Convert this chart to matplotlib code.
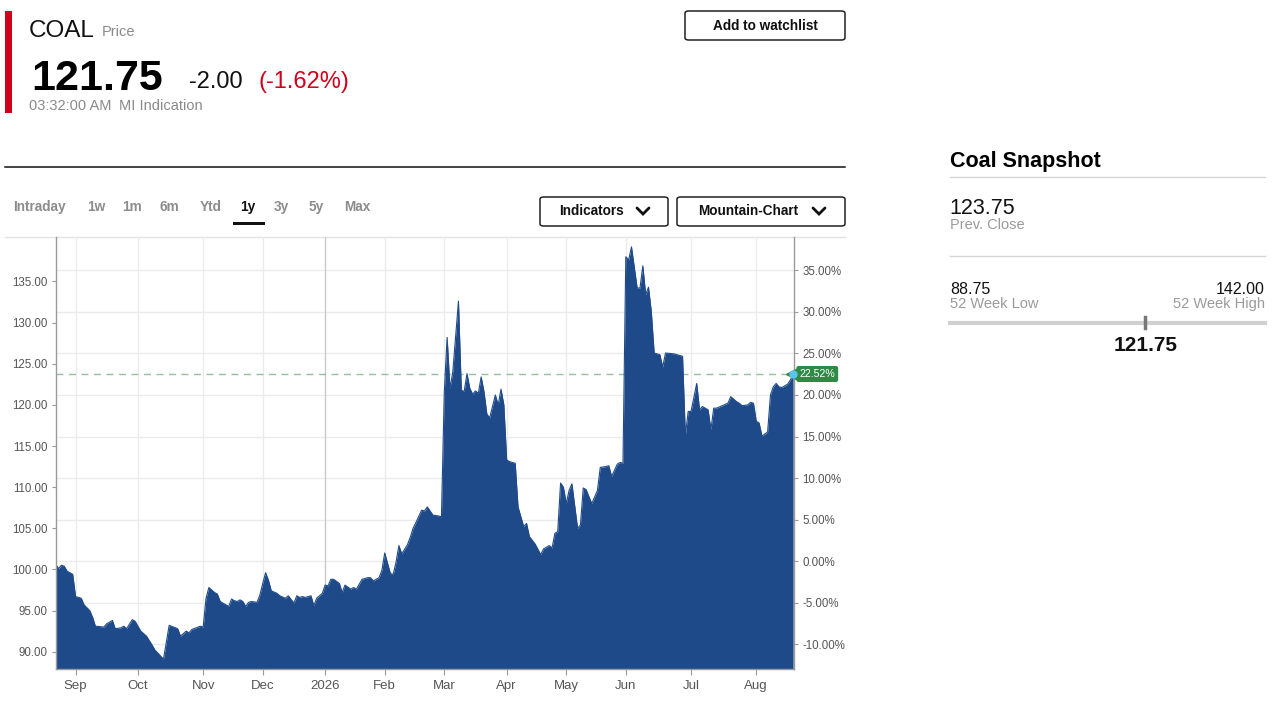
import matplotlib
matplotlib.use("Agg")
import matplotlib.pyplot as plt
from matplotlib.patches import FancyBboxPatch, Rectangle
from matplotlib.lines import Line2D
from matplotlib.ticker import FuncFormatter

# ---------------- data ----------------
ticker = "COAL"
price_word = "Price"
last_price = 121.75
change = -2.00
change_pct = -1.62
time_label = "03:32:00 AM"
source_label = "MI Indication"
prev_close = 123.75
low_52w = 88.75
high_52w = 142.00
base_price = 101.0          # reference price for the % axis

ranges = ["Intraday", "1w", "1m", "6m", "Ytd", "1y", "3y", "5y", "Max"]
active_range = "1y"

session = [0, 1, 2, 3, 4, 6, 7, 9, 10, 12, 13, 14, 17, 18, 20, 21, 23, 24, 25, 27,
           28, 30, 32, 34, 35, 38, 40, 43, 44, 46, 47, 48, 51, 52, 53, 54, 56, 57, 58, 61,
           62, 63, 64, 65, 66, 67, 68, 69, 71, 72, 73, 74, 75, 76, 78, 79, 81, 82, 84, 85,
           86, 87, 88, 90, 91, 92, 94, 95, 96, 97, 98, 100, 101, 102, 104, 105, 106, 108, 110, 111,
           112, 114, 115, 116, 118, 119, 120, 121, 122, 124, 125, 126, 127, 129, 130, 131, 132, 133, 135, 136,
           137, 138, 139, 140, 142, 143, 144, 145, 146, 147, 148, 149, 150, 151, 152, 153, 155, 156, 157, 158,
           159, 160, 162, 163, 164, 165, 166, 167, 169, 171, 172, 174, 175, 176, 177, 178, 179, 180, 181, 182,
           184, 185, 186, 187, 189, 191, 192, 194, 195, 196, 198, 199, 200, 201, 202, 203, 205, 206, 207, 208,
           209, 210, 211, 213, 214, 215, 218, 219, 221, 222, 223, 224, 226, 227, 228, 230, 231, 232, 233, 235,
           237, 238, 240, 241, 242, 244, 245, 246, 247, 248, 249, 251, 252, 253, 254, 255, 256, 258, 259, 260]
price = [100.6, 100.1, 100.5, 100.4, 99.8, 99.4, 96.7, 96.5, 95.7, 95.0, 94.2, 93.1, 93.0, 93.4, 93.8, 92.8, 92.9, 93.1, 92.8, 93.9,
         93.7, 92.5, 91.9, 90.8, 90.2, 89.1, 93.2, 92.8, 91.9, 92.5, 92.3, 92.7, 93.1, 93.0, 96.5, 97.8, 97.2, 97.0, 96.1, 95.5,
         96.4, 96.2, 96.1, 96.3, 96.1, 95.5, 96.0, 96.1, 96.0, 96.9, 98.3, 99.6, 98.7, 97.4, 97.1, 96.8, 96.5, 96.8, 95.9, 96.8,
         96.6, 96.7, 96.6, 96.8, 95.6, 96.5, 97.1, 98.1, 98.0, 98.8, 98.8, 98.3, 97.2, 98.1, 97.6, 97.8, 97.6, 98.8, 99.0, 99.0,
         98.6, 99.0, 99.9, 102.0, 99.5, 99.4, 100.9, 102.9, 101.9, 103.0, 103.9, 105.0, 105.7, 107.2, 107.1, 107.6, 107.1, 106.6, 106.5, 106.4,
         121.5, 128.2, 122.0, 124.0, 132.6, 121.8, 121.6, 123.8, 122.0, 121.3, 121.7, 121.4, 123.4, 121.6, 118.9, 118.4, 121.2, 120.0, 121.9, 120.0,
         113.3, 113.1, 112.9, 107.6, 106.4, 105.2, 105.6, 104.0, 103.1, 101.8, 102.5, 102.9, 102.6, 104.4, 104.6, 110.5, 110.0, 108.0, 109.6, 110.4,
         105.0, 105.4, 109.9, 109.7, 108.0, 109.6, 112.4, 112.5, 112.6, 111.3, 112.8, 113.0, 112.9, 138.0, 137.6, 139.2, 134.2, 134.2, 136.9, 133.4,
         134.3, 131.3, 126.3, 126.1, 124.6, 126.3, 126.2, 126.1, 125.9, 116.3, 119.2, 119.2, 122.6, 119.4, 119.8, 119.4, 117.0, 119.6, 119.6, 119.9,
         120.2, 121.0, 120.4, 120.2, 119.9, 120.0, 120.3, 120.2, 118.0, 117.8, 116.2, 116.7, 121.2, 122.2, 122.6, 122.2, 122.1, 122.5, 123.0, 123.75]

month_labels = ["Sep", "Oct", "Nov", "Dec", "2026", "Feb", "Mar", "Apr", "May", "Jun", "Jul", "Aug"]
month_session = [7, 29, 52, 73, 95, 116, 137, 159, 180, 201, 224, 247]
year_label = "2026"

price_ticks = [90, 95, 100, 105, 110, 115, 120, 125, 130, 135]
pct_ticks = [-10, -5, 0, 5, 10, 15, 20, 25, 30, 35]

snapshot_title = "Coal Snapshot"

# ---------------- style ----------------
W, H = 1274, 716
FONT = "Liberation Sans"
plt.rcParams["font.family"] = [FONT, "DejaVu Sans"]

fig = plt.figure(figsize=(W / 100, H / 100), dpi=100)
fig.patch.set_facecolor("white")


def fx(px):
    return px / W


def fy(py):
    return 1 - py / H


FILL = "#1f4a8a"
GRID = "#ebebeb"
TICKC = "#555555"
SPINE = "#9a9a9a"

# ---------------- chart ----------------
ax = fig.add_axes([fx(55.7), fy(669), fx(794) - fx(55.7), fy(237) - fy(669)])
ax2 = ax.twinx()
ax.set_zorder(2)
ax.patch.set_visible(False)
ax2.set_zorder(1)

ylo, yhi = 87.9, 140.4
ax.set_xlim(0, 260.3)
ax.set_ylim(ylo, yhi)
ax2.set_ylim((ylo / base_price - 1) * 100, (yhi / base_price - 1) * 100)

ax.fill_between(session, price, ylo, color=FILL, lw=0, zorder=2)
ax.plot(session, price, color=FILL, lw=0.8, zorder=2)
ax.axhline(prev_close, color="#93bfa0", lw=1.0, ls=(0, (5, 4)), zorder=1)

ax.set_xticks(month_session)
ax.set_xticklabels(month_labels)
ax.set_yticks(price_ticks)
ax.yaxis.set_major_formatter(FuncFormatter(lambda v, p: f"{v:.2f}"))
ax.grid(axis="x", color=GRID, lw=1)
ax.set_axisbelow(True)
for lbl, gl in zip(month_labels, ax.get_xgridlines()):
    if lbl == year_label:
        gl.set_color("#c9c9c9")

ax2.set_yticks(pct_ticks)
ax2.yaxis.set_major_formatter(FuncFormatter(lambda v, p: f"{v:.2f}%"))
ax2.grid(axis="y", color=GRID, lw=1)

for a in (ax, ax2):
    for s in a.spines.values():
        s.set_visible(False)
for s in ("left", "bottom", "right"):
    ax.spines[s].set_visible(True)
    ax.spines[s].set_color(SPINE)
    ax.spines[s].set_linewidth(1)

ax.tick_params(axis="y", which="both", direction="out", length=3, width=0.8,
               color=SPINE, labelsize=8.3, labelcolor=TICKC, pad=3)
ax.tick_params(axis="x", direction="out", length=4, width=0.8, color=SPINE,
               labelsize=9.5, labelcolor=TICKC, pad=4)
ax2.tick_params(axis="y", direction="out", length=3, width=0.8, color=SPINE,
                labelsize=8.3, labelcolor=TICKC, pad=3)

# end-point badge
pct_last = (price[-1] / base_price - 1) * 100
ax.plot([session[-1]], [price[-1]], marker="<", ms=10, color="#2e8b45",
        clip_on=False, zorder=5)
ax.annotate(f"{pct_last:.2f}%", xy=(session[-1], price[-1]), xytext=(4.5, 0),
            textcoords="offset points", ha="left", va="center", color="white",
            fontsize=7.6, zorder=6, annotation_clip=False,
            bbox=dict(boxstyle="round,pad=0.22,rounding_size=0.15", fc="#2e8b45", ec="#2e8b45"))
ax.plot([session[-1]], [price[-1]], marker="o", ms=5, color="#5cc3ef",
        mec="#5cc3ef", clip_on=False, zorder=7)

# chart frame top line
fig.add_artist(Line2D([fx(5), fx(845)], [fy(237), fy(237)], color="#e3e3e3", lw=1))

# ---------------- header ----------------
fig.add_artist(Rectangle((fx(5), fy(113)), fx(12) - fx(5), fy(11) - fy(113),
                         color="#d0021b", lw=0))
fig.text(fx(29), fy(37), ticker, fontsize=17.5, color="#111111", va="baseline")
fig.text(fx(102), fy(36), price_word, fontsize=10.5, color="#8a8a8a", va="baseline")
fig.text(fx(31), fy(90), f"{last_price:.2f}", fontsize=31, fontweight="bold",
         color="#000000", va="baseline")
fig.text(fx(189), fy(88), f"{change:.2f}", fontsize=17, color="#111111", va="baseline")
fig.text(fx(258), fy(88), f"({change_pct:.2f}%)", fontsize=17, color="#d0021b", va="baseline")
fig.text(fx(29), fy(110), f"{time_label}", fontsize=10.5, color="#8a8a8a", va="baseline")
fig.text(fx(119), fy(110), f"{source_label}", fontsize=10.5, color="#8a8a8a", va="baseline")


def button(x0, y0, x1, y1, label, tx=None, chevron=None):
    fig.add_artist(FancyBboxPatch((fx(x0), fy(y1)), fx(x1) - fx(x0), fy(y0) - fy(y1),
                                  boxstyle="round,pad=0,rounding_size=0.003",
                                  fc="white", ec="#222222", lw=1.1,
                                  transform=fig.transFigure))
    cx = (x0 + x1) / 2 if tx is None else tx
    fig.text(fx(cx), fy((y0 + y1) / 2), label, fontsize=9.8, fontweight="bold",
             color="#111111", ha="center", va="center")
    if chevron is not None:
        cxp, cyp = chevron
        fig.add_artist(Line2D([fx(cxp - 6), fx(cxp), fx(cxp + 6)],
                              [fy(cyp - 3), fy(cyp + 3), fy(cyp - 3)],
                              color="#111111", lw=2.0, solid_capstyle="round",
                              solid_joinstyle="miter"))


button(685, 11, 845, 40, "Add to watchlist")
button(540, 197, 668, 226, "Indicators", tx=591, chevron=(643, 211))
button(677, 197, 845, 226, "Mountain-Chart", tx=748, chevron=(819, 211))

fig.add_artist(Line2D([fx(5), fx(845)], [fy(167), fy(167)], color="#111111", lw=1.1))

# range tabs
tab_x = [13, 87, 122, 160, 200, 240, 274, 309, 344]
for lbl, x in zip(ranges, tab_x):
    active = lbl == active_range
    fig.text(fx(x), fy(207), lbl, fontsize=9.8, fontweight="bold",
             color="#111111" if active else "#8c8c8c", va="center", ha="left")
    if active:
        fig.add_artist(Rectangle((fx(233), fy(224.5)), fx(265) - fx(233), fy(222) - fy(224.5),
                                 color="#111111", lw=0))

# ---------------- snapshot panel ----------------
fig.text(fx(950), fy(161), snapshot_title, fontsize=15.5, fontweight="bold",
         color="#000000", va="center")
fig.add_artist(Line2D([fx(950), fx(1265)], [fy(177), fy(177)], color="#d6d6d6", lw=1))
fig.text(fx(949), fy(214), f"{prev_close:.2f}", fontsize=15.5, color="#111111", va="baseline")
fig.text(fx(950), fy(229), "Prev. Close", fontsize=10.5, color="#9a9a9a", va="baseline")
fig.add_artist(Line2D([fx(950), fx(1265)], [fy(256), fy(256)], color="#d6d6d6", lw=1))
fig.text(fx(950), fy(294), f"{low_52w:.2f}", fontsize=11.5, color="#111111", va="baseline")
fig.text(fx(950), fy(308), "52 Week Low", fontsize=10.5, color="#9a9a9a", va="baseline")
fig.text(fx(1265), fy(294), f"{high_52w:.2f}", fontsize=11.5, color="#111111",
         va="baseline", ha="right")
fig.text(fx(1265), fy(308), "52 Week High", fontsize=10.5, color="#9a9a9a",
         va="baseline", ha="right")

bar_x0, bar_x1 = 950, 1265
fig.add_artist(Line2D([fx(bar_x0), fx(bar_x1)], [fy(323), fy(323)], color="#d0d0d0", lw=3))
frac = (last_price - low_52w) / (high_52w - low_52w)
mx = bar_x0 + frac * (bar_x1 - bar_x0)
fig.add_artist(Line2D([fx(mx), fx(mx)], [fy(317), fy(328)], color="#777777", lw=2.5))
fig.text(fx(mx), fy(345), f"{last_price:.2f}", fontsize=15, fontweight="bold",
         color="#111111", ha="center", va="center")

fig.savefig("out.png", dpi=100, facecolor="white")
